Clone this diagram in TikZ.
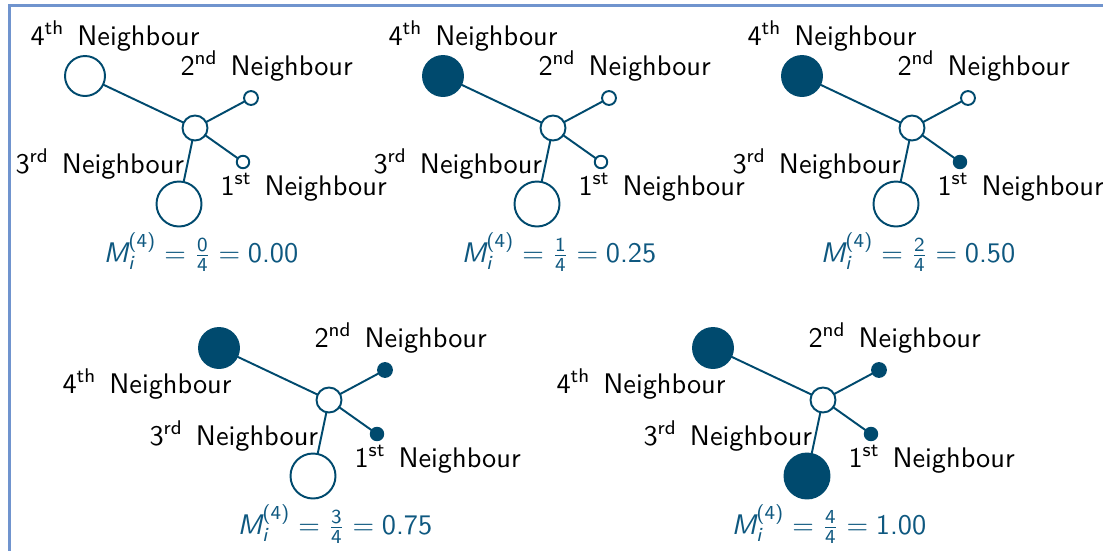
\documentclass[tikz,border=0pt]{standalone}
\usepackage{amsmath}
\renewcommand{\familydefault}{\sfdefault}
\definecolor{nb}{RGB}{0,74,110}
\definecolor{fb}{RGB}{14,88,128}
\definecolor{framec}{RGB}{112,148,206}
\tikzset{
  conn/.style={draw=nb, line width=0.7pt},
  ring/.style={circle, draw=nb, line width=0.7pt, inner sep=0pt, outer sep=0pt},
  hub/.style={ring, fill=white, minimum size=9pt},
  nfour/.style={ring, minimum size=14.4pt},
  nthree/.style={ring, minimum size=16.2pt},
  ntwo/.style={ring, minimum size=5.0pt},
  none/.style={ring, minimum size=4.5pt},
  full/.style={fill=nb},
  hollow/.style={fill=white},
  lab/.style={anchor=base west, inner sep=0pt, font=\fontsize{10.2}{12}\selectfont\sffamily, text=black},
  formula/.style={anchor=base west, inner sep=0pt, font=\fontsize{10.2}{12}\selectfont\sffamily, text=fb},
  framel/.style={draw=framec, line width=0.8pt}
}
\newcommand\nlab[2]{#1\textsuperscript{#2}\hspace{0.45em}Neighbour}
\newcommand\neighpanel[8]{%
  \begin{scope}[shift={(#2,#3)}]
    \node[hub] (#1c) at (0,0) {};
    \node[nfour,#4] (#1n4) at (-110,-52) {};
    \node[ntwo,#5] (#1n2) at (56,-30) {};
    \node[none,#6] (#1n1) at (48,34) {};
    \node[nthree,#7] (#1n3) at (-16,76) {};
    \draw[conn] (#1c) -- (#1n4);
    \draw[conn] (#1c) -- (#1n2);
    \draw[conn] (#1c) -- (#1n1);
    \draw[conn] (#1c) -- (#1n3);
    \node[lab] (#1l2) at (-15,-53) {\nlab{2}{nd}};
    \node[lab] (#1l3) at (-180,45) {\nlab{3}{rd}};
    \node[lab] (#1l1) at (25,67) {\nlab{1}{st}};
    \node[formula] (#1f) at (-92,134) {#8};
  \end{scope}}
\newcommand\mform[2]{$\textsl{M}_{\textsl{i}}^{\text{(4)}} = \frac{\text{#1}}{\text{4}} = \text{#2}$}
\begin{document}
\begin{tikzpicture}[x=0.36pt, y=-0.36pt]
  \useasboundingbox (0,0) rectangle (1103,551);
  \fill[white] (0,0) rectangle (1103,551);
  \draw[framel] (9.5,551) -- (9.5,5.5) -- (1103,5.5);
  \neighpanel{a}{195}{128}{hollow}{hollow}{hollow}{hollow}{\mform{0}{0.00}}
  \neighpanel{b}{553}{128}{full}{hollow}{hollow}{hollow}{\mform{1}{0.25}}
  \neighpanel{c}{912}{128}{full}{hollow}{full}{hollow}{\mform{2}{0.50}}
  \neighpanel{d}{329}{400}{full}{full}{full}{hollow}{\mform{3}{0.75}}
  \neighpanel{e}{823}{400}{full}{full}{full}{full}{\mform{4}{1.00}}
  \node[lab] (al4) at (30,45) {\nlab{4}{th}};
  \node[lab] (bl4) at (388,45) {\nlab{4}{th}};
  \node[lab] (cl4) at (747,45) {\nlab{4}{th}};
  \node[lab] (dl4) at (62,393) {\nlab{4}{th}};
  \node[lab] (el4) at (556,393) {\nlab{4}{th}};
\end{tikzpicture}
\end{document}
